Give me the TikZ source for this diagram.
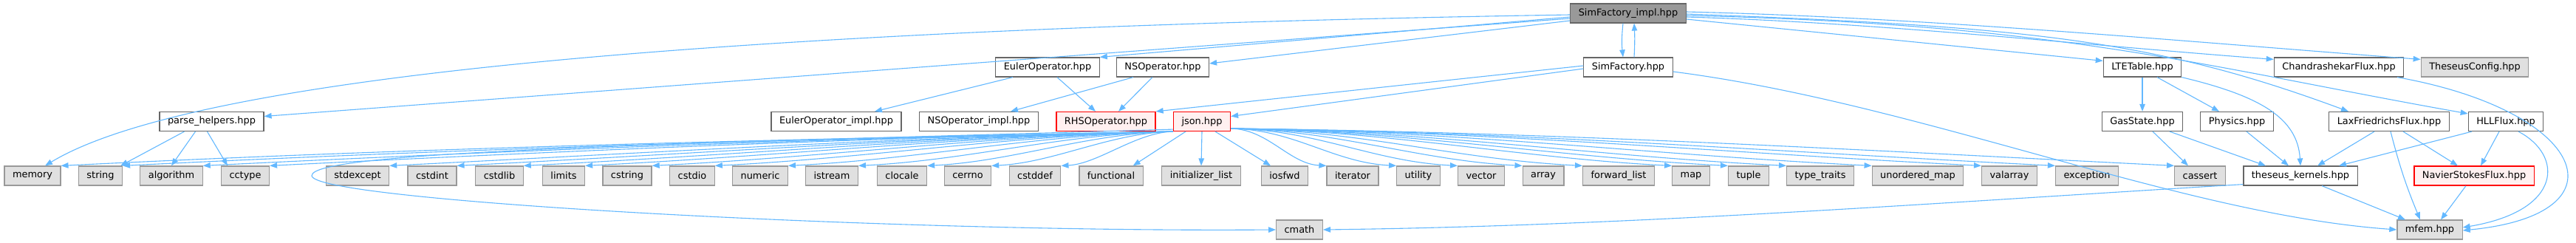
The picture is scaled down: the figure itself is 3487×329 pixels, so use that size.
\documentclass[tikz,border=0pt]{standalone}
\usepackage{fontspec}
\setmainfont{DejaVu Sans}
\usetikzlibrary{arrows.meta}

\definecolor{edgeblue}{HTML}{63B8FF}
\definecolor{boxline}{HTML}{666666}
\definecolor{sysline}{HTML}{999999}
\definecolor{sysfill}{HTML}{E0E0E0}
\definecolor{redfill}{HTML}{FFF0F0}
\definecolor{rootfill}{HTML}{999999}

\tikzset{
	hdr/.style={draw=boxline,fill=white,line width=1.2pt,minimum height=26pt,inner xsep=11pt,inner ysep=0pt,font=\fontsize{12.9}{15}\selectfont},
	syshdr/.style={hdr,draw=sysline,fill=sysfill},
	cuthdr/.style={hdr,draw=red,fill=redfill},
	roothdr/.style={hdr,fill=rootfill},
	dep/.style={draw=edgeblue,line width=1.1pt,-{Triangle[length=10pt,width=7.5pt]}}
}

\begin{document}
\begin{tikzpicture}[x=1pt,y=-1pt]
			\useasboundingbox (0,0) rectangle (3487,329);

			\node[roothdr] (simimpl) at (2204,18) {SimFactory\_impl.hpp};

			\node[hdr] (eulerop) at (1418,91) {EulerOperator.hpp};
			\node[hdr] (nsop) at (1574,91) {NSOperator.hpp};
			\node[hdr] (simfac) at (2204,91) {SimFactory.hpp};
			\node[hdr] (lte) at (2900,91) {LTETable.hpp};
			\node[hdr] (chandra) at (3166,91) {ChandrashekarFlux.hpp};
			\node[syshdr] (config) at (3350,91) {TheseusConfig.hpp};

			\node[hdr] (parsehelp) at (286.5,164.5) {parse\_helpers.hpp};
			\node[hdr] (eulerimpl) at (1132,164.5) {EulerOperator\_impl.hpp};
			\node[hdr] (nsimpl) at (1325,164.5) {NSOperator\_impl.hpp};
			\node[cuthdr] (rhs) at (1497,164.5) {RHSOperator.hpp};
			\node[cuthdr] (json) at (1627,164.5) {json.hpp};
			\node[hdr] (gas) at (2900,164.5) {GasState.hpp};
			\node[hdr] (physics) at (3028,164.5) {Physics.hpp};
			\node[hdr] (laxf) at (3234,164.5) {LaxFriedrichsFlux.hpp};
			\node[hdr] (hll) at (3392,164.5) {HLLFlux.hpp};

			% system headers
			\foreach \n/\x/\t in {memory/44/memory, string/136/string, algorithm/232/algorithm, cctype/332/cctype,
				stdexcept/484/stdexcept, cstdint/585/cstdint, cstdlib/676/cstdlib, limits/763/limits, cstring/849/cstring,
				cstdio/937/cstdio, numeric/1029/numeric, istream/1126/istream, clocale/1221/clocale, cerrno/1310/cerrno,
				cstddef/1401/cstddef, functional/1504/functional, initlist/1626/initializer\_list, iosfwd/1739/iosfwd,
				iterator/1831/iterator, utility/1920/utility, vector/2005/vector, array/2089/array,
				forwardlist/2191/forward\_list, map/2289/map, tuple/2367/tuple, typetraits/2464/type\_traits,
				unorderedmap/2596/unordered\_map, valarray/2720/valarray, exception/2825/exception, cassert/2978/cassert}
				\node[syshdr] (\n) at (\x,238) {\t};
			\node[hdr] (theseus) at (3114,238) {theseus\_kernels.hpp};
			\node[cuthdr] (ns) at (3349,238) {NavierStokesFlux.hpp};

			\node[syshdr] (cmath) at (1759,311) {cmath};
			\node[syshdr] (mfem) at (3289,311) {mfem.hpp};

			% SimFactory_impl.hpp
			\draw[dep] ([yshift=-2pt]simimpl.west) .. controls (900,40) and (250,110) .. ([xshift=17pt]memory.north);
			\draw[dep] ([yshift=-7pt]simimpl.west) -- ([yshift=7pt]parsehelp.east);
			\draw[dep] ([yshift=-5pt]simimpl.west) -- (eulerop.north east);
			\draw[dep] ([yshift=-10pt]simimpl.west) -- ([yshift=5pt]nsop.east);
			\draw[dep] ([xshift=-7pt]simimpl.south) to[bend right=6] ([xshift=-7pt]simfac.north);
			\draw[dep] ([xshift=8pt]simfac.north) to[bend right=3] ([xshift=8pt]simimpl.south);
			\draw[dep] ([yshift=-8pt]simimpl.east) -- ([yshift=-5pt]lte.north west);
			\draw[dep] ([yshift=-5pt]simimpl.east) .. controls +(265,8) and +(-265,-20) .. ([yshift=-3pt]chandra.north west);
			\draw[dep] ([yshift=2pt]simimpl.east) .. controls +(330,8) and +(-330,-25) .. ([yshift=-3pt]config.north west);
			\draw[dep] ([yshift=-1pt]simimpl.east) .. controls (2750,36) and (2920,55) .. ([xshift=-55pt]laxf.north);
			\draw[dep] ([yshift=-3pt]simimpl.east) .. controls (2800,33) and (2980,90) .. ([yshift=-3pt]hll.north west);

			% SimFactory.hpp
			\draw[dep] ([yshift=2pt]simfac.west) -- (rhs.north east);
			\draw[dep] ([yshift=-2pt]simfac.west) -- ([yshift=7pt]json.east);
			\draw[dep] ([yshift=-6pt]simfac.east) .. controls (2600,140) and (2950,290) .. (mfem.west);

			\draw[dep] ([xshift=-47pt]eulerop.south) -- ([xshift=52pt]eulerimpl.north);
			\draw[dep] ([xshift=13pt]eulerop.south) -- ([xshift=-14pt]rhs.north);
			\draw[dep] ([xshift=-40pt]nsop.south) -- ([xshift=43pt]nsimpl.north);
			\draw[dep] ([xshift=-14pt]nsop.south) -- ([xshift=17pt]rhs.north);

			\draw[dep] ([xshift=-37pt]parsehelp.south) -- ([xshift=-3pt]string.north east);
			\draw[dep] ([xshift=-22pt]parsehelp.south) -- (algorithm.north);
			\draw[dep] ([xshift=-6pt]parsehelp.south) -- ([xshift=-24pt]cctype.north);

			% json.hpp
			\foreach \t/\c in {memory/500, string/480, algorithm/440, cctype/410, stdexcept/360, cstdint/330, cstdlib/300,
				limits/270, cstring/240, cstdio/210, numeric/180, istream/150, clocale/115, cerrno/85, cstddef/50}
				\draw[dep] (json.south west) .. controls +(-\c,{0.02*\c}) and +(\c,{-0.05*\c}) .. (\t.north east);
			\draw[dep] ([xshift=-22pt]json.south) -- ([xshift=-14pt]functional.north east);
			\draw[dep] (json.south) -- (initlist.north);
			\draw[dep] ([xshift=18pt]json.south) -- ([xshift=-19pt]iosfwd.north);
			\foreach \t/\c in {iterator/50, utility/85, vector/115, array/140, forwardlist/175, map/205, tuple/230,
				typetraits/265, unorderedmap/310, valarray/350, exception/385, cassert/425}
				\draw[dep] ([yshift=4pt]json.south east) .. controls +(\c,{0.01*\c}) and +(-\c,{-0.05*\c}) .. (\t.north west);
			\draw[dep] ([yshift=3pt]json.south west) .. controls (900,195) and (420,205) .. (422,238)
				.. controls (425,272) and (1200,315) .. (cmath.west);

			% LTETable.hpp and the fluxes
			\draw[dep] (lte.south) -- (gas.north);
			\draw[dep] ([xshift=20pt]lte.south) -- ([xshift=-24pt]physics.north);
			\draw[dep] (lte.south east) .. controls (3060,130) and (3110,160) .. (theseus.north);
			\draw[dep] ([xshift=14pt]gas.south) -- ([xshift=-16pt]cassert.north);
			\draw[dep] ([xshift=37pt]gas.south) -- ([xshift=-47pt]theseus.north);
			\draw[dep] ([xshift=13pt]physics.south) -- ([xshift=-16pt]theseus.north);
			\draw[dep] ([xshift=-20pt]laxf.south) -- ([xshift=23pt]theseus.north);
			\draw[dep] ([xshift=19pt]laxf.south) -- ([xshift=-22pt]ns.north);
			\draw[dep] ([xshift=2pt]laxf.south) to[bend right=4] ([xshift=-13pt]mfem.north);
			\draw[dep] ([xshift=-46pt]hll.south) -- ([xshift=52pt]theseus.north);
			\draw[dep] ([xshift=-9pt]hll.south) -- ([xshift=9pt]ns.north);
			\draw[dep] ([xshift=17pt]hll.south) .. controls (3470,210) and (3470,285) .. ([yshift=3pt]mfem.east);
			\draw[dep] ([xshift=79pt]chandra.south) .. controls (3500,150) and (3560,290) .. ([yshift=-1pt]mfem.east);
			\draw[dep] ([xshift=-11pt]ns.south) -- ([xshift=15pt]mfem.north);
			\draw[dep] ([yshift=2pt]theseus.south west) .. controls +(-415,25) and +(415,-5) .. (cmath.east);
			\draw[dep] ([xshift=29pt]theseus.south) -- ([xshift=-33pt]mfem.north);

			% \draw[help lines,step=50] (0,0) grid (3487,329);
\end{tikzpicture}
\end{document}
